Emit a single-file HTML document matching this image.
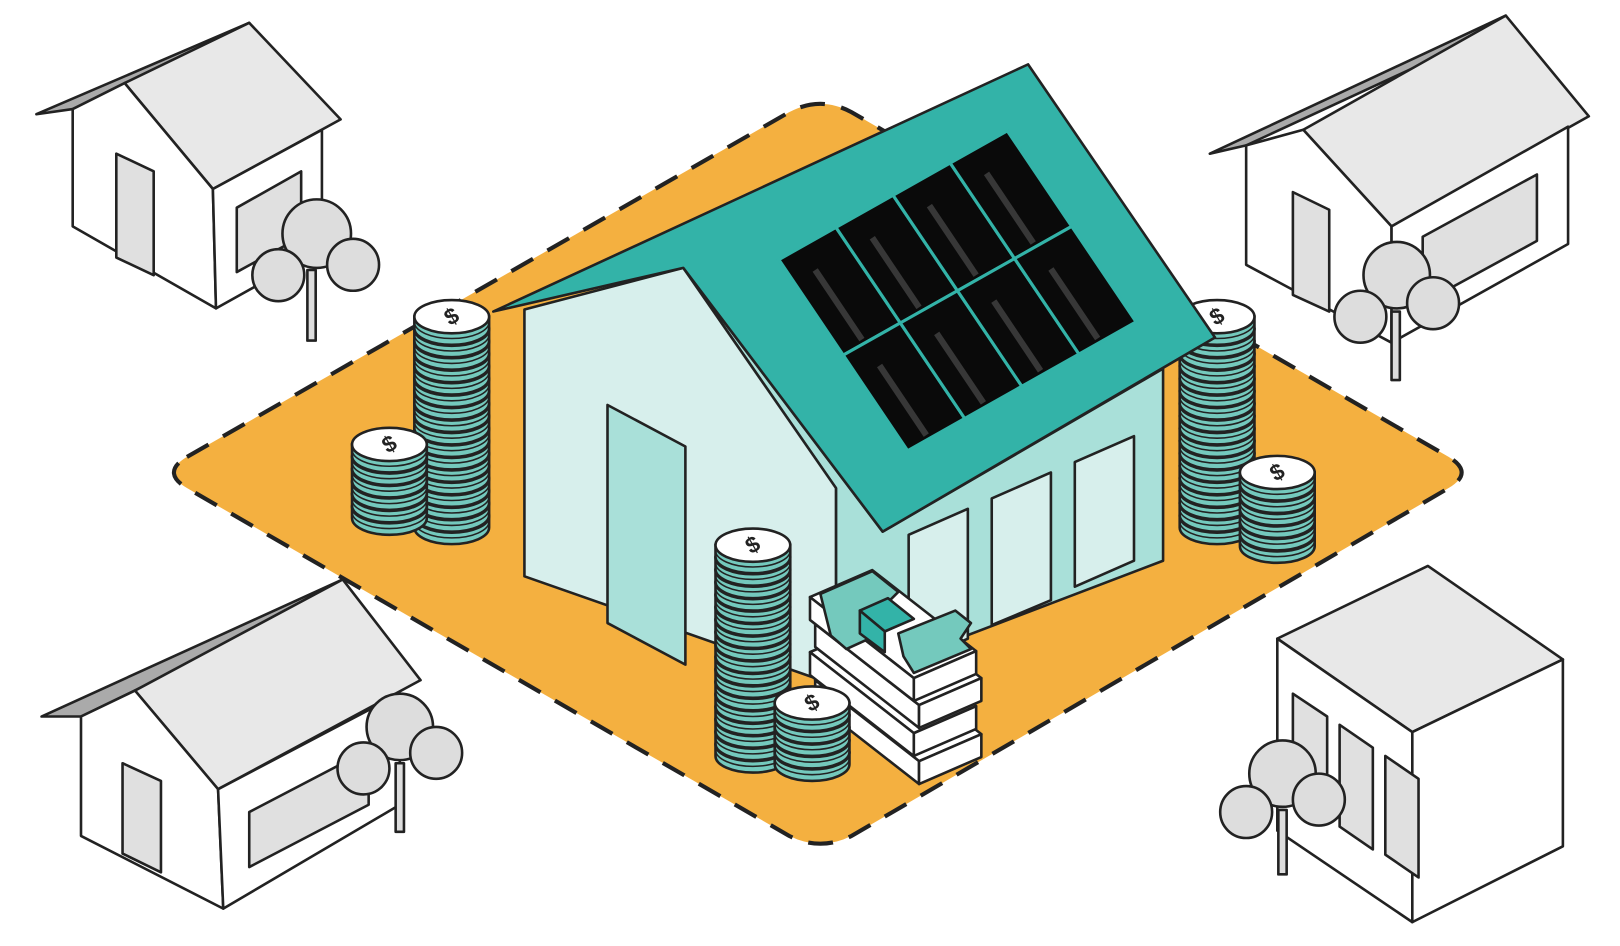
<!DOCTYPE html>
<html><head><meta charset="utf-8"><style>html,body{margin:0;padding:0;background:#fff}svg{display:block}</style></head>
<body>
<svg width="1620" height="946" viewBox="0 0 1560 911" preserveAspectRatio="none" xmlns="http://www.w3.org/2000/svg">
<defs>
<g id="coin">
<path d="M-36,0 v11 a36,16 0 0 0 72,0 v-11 z" fill="#74c9bd" stroke="#222" stroke-width="2.5"/>
<path d="M-34.8,4 a36,16 0 0 0 69.6,0 v-4 h-69.6 z" fill="#fff"/>
<path d="M-36,5 a36,16 0 0 0 72,0" fill="none" stroke="#222" stroke-width="1.5"/>
<ellipse cx="0" cy="0" rx="36" ry="16" fill="#fff" stroke="#222" stroke-width="2.5"/>
</g>
<g id="ctop">
<use href="#coin"/>
<text x="0" y="7" font-family="Liberation Sans, sans-serif" font-weight="bold" font-size="22" text-anchor="middle" fill="#222" transform="rotate(-30)">$</text>
</g>
<g id="box">
<polygon points="0,0 60,-26 160,52 100,78" fill="#fff"/>
<polygon points="0,0 100,78 100,100 0,22" fill="#fff"/>
<polygon points="100,78 160,52 160,74 100,100" fill="#fff"/>
</g>
</defs>

<path d="M180,440 L760,108 Q790,92 820,108 L1395,440 Q1420,455 1395,470 L820,805 Q790,820 760,805 L180,470 Q155,455 180,440 Z" fill="#f4b040" stroke="#222" stroke-width="4" stroke-dasharray="24 16"/>

<g stroke="#222" stroke-width="2.5" stroke-linejoin="round">
<polygon points="35,110 240,22 245,30 70,105" fill="#aaa"/>
<polygon points="120,80 240,22 328,115 205,182" fill="#e8e8e8"/>
<polygon points="70,105 120,80 205,182 208,297 70,218" fill="#fff"/>
<polygon points="205,182 310,125 310,240 208,297" fill="#fff"/>
<polygon points="112,148 148,165 148,265 112,248" fill="#e0e0e0"/>
<polygon points="228,200 290,165 290,228 228,262" fill="#e0e0e0"/>
<rect x="296" y="260" width="8" height="68" fill="#ddd"/>
<circle cx="305" cy="225" r="33" fill="#ddd"/><circle cx="268" cy="265" r="25" fill="#ddd"/><circle cx="340" cy="255" r="25" fill="#ddd"/>

<polygon points="1165,148 1450,15 1455,22 1200,140" fill="#aaa"/>
<polygon points="1255,125 1450,15 1530,112 1340,218" fill="#e8e8e8"/>
<polygon points="1200,140 1255,125 1340,218 1340,330 1200,255" fill="#fff"/>
<polygon points="1340,218 1510,122 1510,235 1340,330" fill="#fff"/>
<polygon points="1245,185 1280,202 1280,300 1245,284" fill="#e0e0e0"/>
<polygon points="1370,228 1480,168 1480,232 1370,292" fill="#e0e0e0"/>
<rect x="1340" y="300" width="8" height="66" fill="#ddd"/>
<circle cx="1345" cy="265" r="32" fill="#ddd"/><circle cx="1310" cy="305" r="25" fill="#ddd"/><circle cx="1380" cy="292" r="25" fill="#ddd"/>

<polygon points="40,690 330,558 335,566 78,690" fill="#aaa"/>
<polygon points="130,665 330,558 405,655 210,760" fill="#e8e8e8"/>
<polygon points="78,690 130,665 210,760 215,875 78,805" fill="#fff"/>
<polygon points="210,760 385,668 385,775 215,875" fill="#fff"/>
<polygon points="118,735 155,752 155,840 118,822" fill="#e0e0e0"/>
<polygon points="240,782 355,722 355,775 240,835" fill="#e0e0e0"/>
<rect x="381" y="735" width="8" height="66" fill="#ddd"/>
<circle cx="385" cy="700" r="32" fill="#ddd"/><circle cx="350" cy="740" r="25" fill="#ddd"/><circle cx="420" cy="725" r="25" fill="#ddd"/>

<polygon points="1230,615 1375,545 1505,635 1360,705" fill="#e8e8e8"/>
<polygon points="1230,615 1360,705 1360,888 1230,800" fill="#fff"/>
<polygon points="1360,705 1505,635 1505,815 1360,888" fill="#fff"/>
<polygon points="1245,668 1278,690 1278,790 1245,768" fill="#e0e0e0"/>
<polygon points="1290,698 1322,720 1322,818 1290,796" fill="#e0e0e0"/>
<polygon points="1334,728 1366,750 1366,845 1334,823" fill="#e0e0e0"/>
<rect x="1231" y="780" width="8" height="62" fill="#ddd"/>
<circle cx="1235" cy="745" r="32" fill="#ddd"/><circle cx="1200" cy="782" r="25" fill="#ddd"/><circle cx="1270" cy="770" r="25" fill="#ddd"/>
</g>

<g transform="translate(1172,0)">
<use href="#coin" y="497"/><use href="#coin" y="485"/><use href="#coin" y="473"/><use href="#coin" y="461"/><use href="#coin" y="449"/><use href="#coin" y="437"/><use href="#coin" y="425"/><use href="#coin" y="413"/><use href="#coin" y="401"/><use href="#coin" y="389"/><use href="#coin" y="377"/><use href="#coin" y="365"/><use href="#coin" y="353"/><use href="#coin" y="341"/><use href="#coin" y="329"/><use href="#coin" y="317"/><use href="#ctop" y="305"/>
</g>

<g stroke="#222" stroke-width="2.5" stroke-linejoin="round">
<polygon points="658,258 850,512 1120,355 1120,540 805,660 805,470" fill="#a9e0d9"/>
<polygon points="505,298 658,258 805,470 805,660 505,555" fill="#d7efec"/>
<polygon points="585,390 660,430 660,640 585,600" fill="#a9e0d9"/>
<polygon points="875,515 932,490 932,615 875,640" fill="#d7efec"/>
<polygon points="955,480 1012,455 1012,578 955,602" fill="#d7efec"/>
<polygon points="1035,445 1092,420 1092,540 1035,565" fill="#d7efec"/>
<polygon points="475,300 990,62 1170,325 850,512 658,258" fill="#33b3a8"/>
</g>
<g stroke="#33b3a8" stroke-width="3" fill="#0a0a0a">
<polygon points="750,250 805,219 867,311 812,342"/>
<polygon points="805,219 860,188 922,280 867,311"/>
<polygon points="860,188 915,157 977,249 922,280"/>
<polygon points="915,157 970,126 1032,218 977,249"/>
<polygon points="812,342 867,311 929,403 874,434"/>
<polygon points="867,311 922,280 984,372 929,403"/>
<polygon points="922,280 977,249 1039,341 984,372"/>
<polygon points="977,249 1032,218 1094,310 1039,341"/>
</g>
<g stroke="#555" stroke-width="6" opacity="0.6">
<line x1="785" y1="260" x2="830" y2="327"/><line x1="840" y1="229" x2="885" y2="296"/><line x1="895" y1="198" x2="940" y2="265"/><line x1="950" y1="167" x2="995" y2="234"/>
<line x1="847" y1="352" x2="892" y2="419"/><line x1="902" y1="321" x2="947" y2="388"/><line x1="957" y1="290" x2="1002" y2="357"/><line x1="1012" y1="259" x2="1057" y2="326"/>
</g>

<g transform="translate(435,0)">
<use href="#coin" y="497"/><use href="#coin" y="485"/><use href="#coin" y="473"/><use href="#coin" y="461"/><use href="#coin" y="449"/><use href="#coin" y="437"/><use href="#coin" y="425"/><use href="#coin" y="413"/><use href="#coin" y="401"/><use href="#coin" y="389"/><use href="#coin" y="377"/><use href="#coin" y="365"/><use href="#coin" y="353"/><use href="#coin" y="341"/><use href="#coin" y="329"/><use href="#coin" y="317"/><use href="#ctop" y="305"/>
</g>
<g transform="translate(375,0)">
<use href="#coin" y="488"/><use href="#coin" y="476"/><use href="#coin" y="464"/><use href="#coin" y="452"/><use href="#coin" y="440"/><use href="#ctop" y="428"/>
</g>
<g transform="translate(1230,0)">
<use href="#coin" y="515"/><use href="#coin" y="503"/><use href="#coin" y="491"/><use href="#coin" y="479"/><use href="#coin" y="467"/><use href="#ctop" y="455"/>
</g>

<g stroke="#222" stroke-width="2.5" stroke-linejoin="round">
<use href="#box" x="785" y="655"/>
<use href="#box" x="780" y="628"/>
<use href="#box" x="785" y="601"/>
<use href="#box" x="780" y="575"/>
<polygon points="790,572 840,550 865,570 850,585 870,600 815,625 800,612" fill="#74c9bd"/>
<polygon points="865,610 920,588 935,600 925,615 935,625 880,648 870,632" fill="#74c9bd"/>
<polygon points="828,588 855,576 880,596 852,608" fill="#33b3a8"/>
<polygon points="828,588 852,608 852,628 828,610" fill="#33b3a8"/>
</g>

<g transform="translate(725,0)">
<use href="#coin" y="717"/><use href="#coin" y="705"/><use href="#coin" y="693"/><use href="#coin" y="681"/><use href="#coin" y="669"/><use href="#coin" y="657"/><use href="#coin" y="645"/><use href="#coin" y="633"/><use href="#coin" y="621"/><use href="#coin" y="609"/><use href="#coin" y="597"/><use href="#coin" y="585"/><use href="#coin" y="573"/><use href="#coin" y="561"/><use href="#coin" y="549"/><use href="#coin" y="537"/><use href="#ctop" y="525"/>
</g>
<g transform="translate(782,0)">
<use href="#coin" y="725"/><use href="#coin" y="713"/><use href="#coin" y="701"/><use href="#coin" y="689"/><use href="#ctop" y="677"/>
</g>
</svg>
</body></html>
